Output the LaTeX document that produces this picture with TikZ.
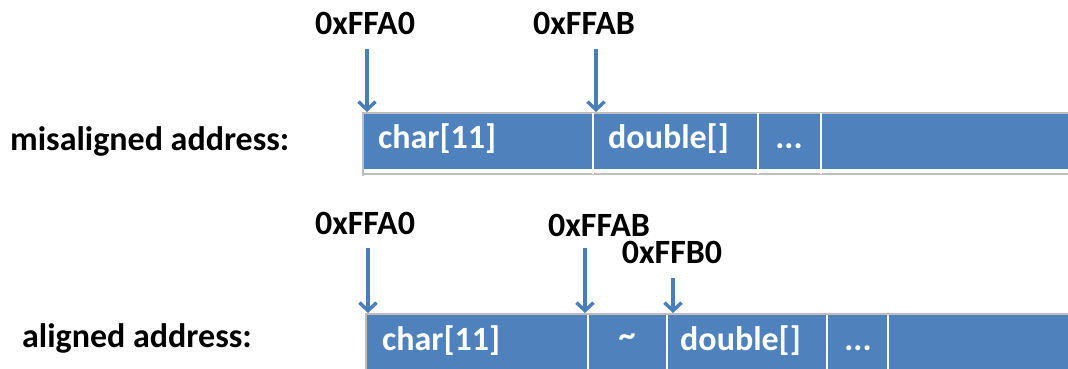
\documentclass[tikz,border=0pt]{standalone}
\usepackage{fontspec}
\setmainfont{Carlito}
\usetikzlibrary{arrows.meta}
\definecolor{cellblue}{RGB}{79,129,189}
\definecolor{arrowblue}{RGB}{74,126,187}
\definecolor{rulegray}{RGB}{190,190,190}

\begin{document}
\begin{tikzpicture}[x=1pt,y=-1pt,
  lbl/.style={font=\fontsize{34}{40}\selectfont\bfseries, inner sep=0pt, anchor=base},
  celltext/.style={lbl, text=white, anchor=base west},
  ptr/.style={draw=arrowblue, line width=4pt,
    -{Straight Barb[length=8pt,width=17pt,line width=3.4pt]}},
  cell/.style={fill=cellblue, draw=none, inner sep=0pt, anchor=north west},
  sep/.style={draw=white, line width=2pt},
  border/.style={draw=rulegray, line width=1.2pt}]
\useasboundingbox (0,0) rectangle (1068,369);

% ---------- misaligned layout ----------
\node[cell, minimum width=230pt, minimum height=56pt] (m1) at (363,113) {};
\node[cell, minimum width=165pt, minimum height=56pt] (m2) at (593,113) {};
\node[cell, minimum width=63pt,  minimum height=56pt] (m3) at (758,113) {};
\node[cell, minimum width=247pt, minimum height=56pt] (m4) at (821,113) {};
\draw[border] (1068,113) -- (m1.north west) -- (363,176);
\draw[border] (363,174) -- (1068,174);
\foreach \c in {m1,m2,m3}
  \draw[sep] (\c.north east) -- ++(0,61);

\node[celltext] (m1t) at (378,148) {char[11]};
\node[celltext] (m2t) at (608,148) {double[]};
\node[lbl, text=white] (m3t) at (789,148) {...};

\node[lbl, anchor=base west] (mlab) at (10,150) {misaligned address:};

\node[lbl] (ma0) at (365,35) {0xFFA0};
\node[lbl] (mab) at (584,35) {0xFFAB};
\coordinate (ma0s) at (367,49);
\coordinate (ma0e) at (367,112);
\coordinate (mabs) at (596,49);
\coordinate (mabe) at (596,112);
\draw[ptr] (ma0s) -- (ma0e);
\draw[ptr] (mabs) -- (mabe);

% ---------- aligned layout ----------
\node[cell, minimum width=222pt, minimum height=56pt] (a1) at (366,315) {};
\node[cell, minimum width=79pt,  minimum height=56pt] (a2) at (588,315) {};
\node[cell, minimum width=160pt, minimum height=56pt] (a3) at (667,315) {};
\node[cell, minimum width=61pt,  minimum height=56pt] (a4) at (827,315) {};
\node[cell, minimum width=180pt, minimum height=56pt] (a5) at (888,315) {};
\draw[border] (1068,314) -- (366,314) -- (366,371);
\foreach \c in {a1,a2,a3,a4}
  \draw[sep] (\c.north east) -- ++(0,58);

\node[celltext] (a1t) at (382,350) {char[11]};
\node[lbl, text=white] (a2t) at (627,346) {\char`\~};
\node[celltext] (a3t) at (680,350) {double[]};
\node[lbl, text=white] (a4t) at (858,350) {...};

\node[lbl, anchor=base west] (alab) at (22,347) {aligned address:};

\node[lbl] (aa0) at (365,234) {0xFFA0};
\node[lbl] (aab) at (599,236) {0xFFAB};
\node[lbl] (ab0) at (672,263) {0xFFB0};
\coordinate (aa0s) at (368,248);
\coordinate (aa0e) at (368,313);
\coordinate (aabs) at (585,248);
\coordinate (aabe) at (585,313);
\coordinate (ab0s) at (673,278);
\coordinate (ab0e) at (673,313);
\draw[ptr] (aa0s) -- (aa0e);
\draw[ptr] (aabs) -- (aabe);
\draw[ptr] (ab0s) -- (ab0e);
\end{tikzpicture}
\end{document}
